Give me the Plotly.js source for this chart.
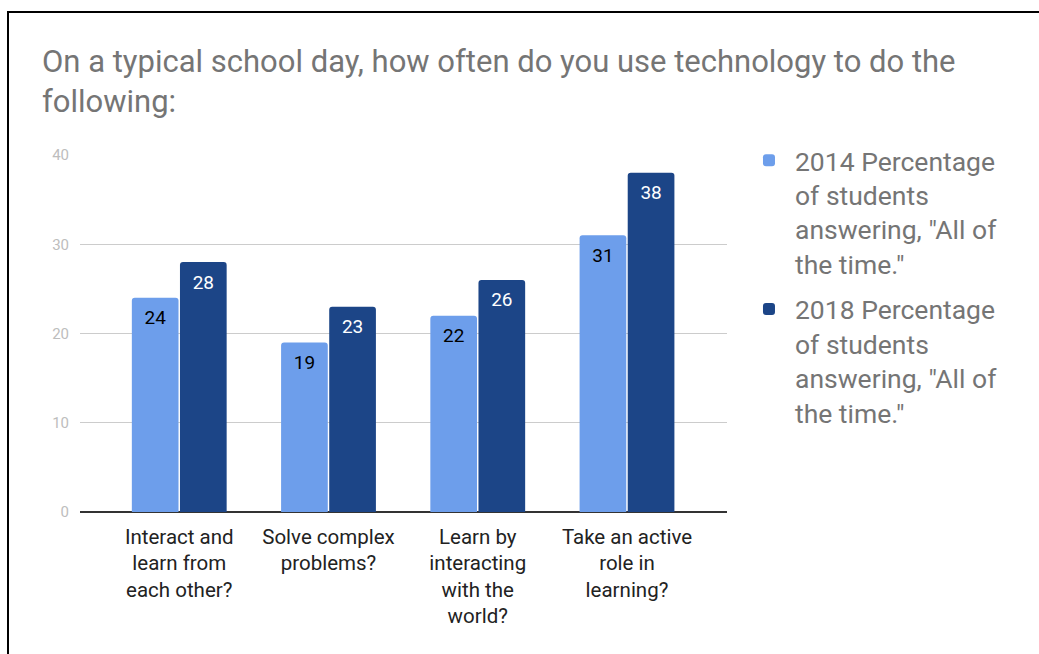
<!DOCTYPE html>
<html>
<head>
<meta charset="utf-8">
<script src="https://cdn.plot.ly/plotly-3.0.1.min.js"></script>
<style>
html,body{margin:0;padding:0;background:#fff;}
#wrap{position:relative;width:1039px;height:654px;overflow:hidden;}
#chart{position:absolute;left:0;top:0;width:1039px;height:654px;}
#frame{position:absolute;left:7px;top:11px;width:1040px;height:641px;border-left:2px solid #000;border-top:2px solid #000;pointer-events:none;}
</style>
</head>
<body>
<div id="wrap"><div id="chart"></div><div id="frame"></div></div>
<script>
var categories = ["Interact and<br>learn from<br>each other?", "Solve complex<br>problems?", "Learn by<br>interacting<br>with the<br>world?", "Take an active<br>role in<br>learning?"];
var series2014 = [24, 19, 22, 31];
var series2018 = [28, 23, 26, 38];
var name2014 = "2014 Percentage<br>of students<br>answering, \"All of<br>the time.\"";
var name2018 = "2018 Percentage<br>of students<br>answering, \"All of<br>the time.\"";
var yTicks = [0, 10, 20, 30, 40];

var traces = [
  {type:'bar', x:categories, y:series2014, name:name2014, offsetgroup:'a', legendgroup:'a',
   marker:{color:'#6d9eeb', cornerradius:3}, textposition:'none', hoverinfo:'y'},
  {type:'bar', x:categories, y:series2018, name:name2018, offsetgroup:'b', legendgroup:'b',
   marker:{color:'#1c4587', cornerradius:3}, textposition:'none', hoverinfo:'y'},
  {type:'scatter', mode:'markers+text', x:categories, y:series2014, offsetgroup:'a', showlegend:false,
   marker:{size:18, color:'rgba(0,0,0,0)'}, text:series2014.map(String), textposition:'bottom center',
   textfont:{family:'Roboto', size:19, color:'#000000'}, hoverinfo:'skip', cliponaxis:false},
  {type:'scatter', mode:'markers+text', x:categories, y:series2018, offsetgroup:'b', showlegend:false,
   marker:{size:18, color:'rgba(0,0,0,0)'}, text:series2018.map(String), textposition:'bottom center',
   textfont:{family:'Roboto', size:19, color:'#ffffff'}, hoverinfo:'skip', cliponaxis:false}
];

var layout = {
  width:1039, height:654,
  margin:{l:80, r:312, t:155, b:142},
  paper_bgcolor:'#ffffff', plot_bgcolor:'#ffffff',
  font:{family:'Roboto', color:'#222222'},
  title:{text:'On a typical school day, how often do you use technology to do the<br>following:',
         x:42/1039, xanchor:'left', y:1-72/654, yanchor:'top',
         font:{family:'Roboto', size:31, color:'#757575'}},
  barmode:'group', bargap:0.355, bargroupgap:0.03,
  scattermode:'group', scattergap:0.355,
  xaxis:{range:[-0.665, 3.67], showgrid:false, zeroline:false, showline:false,
         ticks:'', ticklabelstandoff:10, tickfont:{family:'Roboto', size:20.5, color:'#222222'}, fixedrange:true},
  yaxis:{range:[0,40], tickvals:yTicks, ticktext:yTicks.map(String), showgrid:true,
         gridcolor:'#cccccc', gridwidth:1, zeroline:true, zerolinecolor:'#333333', zerolinewidth:2,
         showline:false, ticks:'', ticklabelstandoff:10,
         tickfont:{family:'Roboto', size:15, color:'#bdbdbd'}, fixedrange:true},
  showlegend:true,
  legend:{x:1.0247, xanchor:'left', y:1.052, yanchor:'top', valign:'top', traceorder:'grouped',
          font:{family:'Roboto', size:26.5, color:'#757575'}, tracegroupgap:8,
          itemwidth:42, bgcolor:'rgba(0,0,0,0)'}
};

Plotly.newPlot('chart', traces, layout, {displayModeBar:false, staticPlot:true});
</script>
</body>
</html>
